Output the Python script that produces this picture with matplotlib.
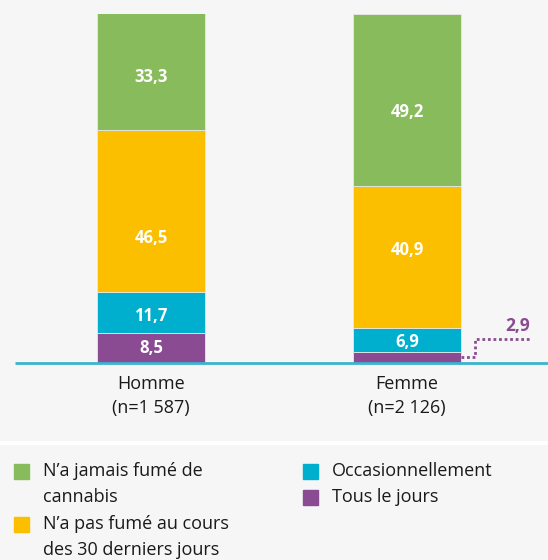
import numpy as np
import matplotlib.pyplot as plt
from matplotlib.patches import Rectangle
from matplotlib.lines import Line2D

plt.rcParams['font.family'] = ['Open Sans', 'DejaVu Sans']

# données
groupes = ['Homme\n(n=1 587)', 'Femme\n(n=2 126)']
categories = ['Tous le jours', 'Occasionnellement',
              'N\u2019a pas fumé au cours\ndes 30 derniers jours',
              'N\u2019a jamais fumé de\ncannabis']
homme = [8.5, 11.7, 46.5, 33.3]
femme = [2.9, 6.9, 40.9, 49.2]
couleurs = ['#8b4b93', '#00aecd', '#fcbf00', '#87bb5b']
# position verticale des étiquettes dans chaque segment (fraction)
pos_h = [0.5, 0.42, 0.33, 0.45]
pos_f = [0.5, 0.42, 0.55, 0.43]

fond = '#f6f6f6'
W, H = 548, 560
fig = plt.figure(figsize=(W / 100, H / 100), dpi=100, facecolor=fond)

# zone du graphique (en pixels : haut 13.5, bas 362.5)
y_top, y_bot = 13.5, 362.5
ax = fig.add_axes([0, 1 - y_bot / H, 1, (y_bot - y_top) / H])
ax.set_facecolor(fond)
ax.set_xlim(-151 / 256, (W - 151) / 256)
ax.set_ylim(0, 100)
for s in ax.spines.values():
    s.set_visible(False)
ax.set_xticks([])
ax.set_yticks([])

x = np.arange(len(groupes))
largeur = 108 / 256
data = np.array([homme, femme])
positions = [pos_h, pos_f]
bas = np.zeros(len(groupes))
for k, cat in enumerate(categories):
    vals = data[:, k]
    ax.bar(x, vals, largeur, bottom=bas, color=couleurs[k],
           edgecolor='#e8e8e8', linewidth=0.6, zorder=2)
    for i in range(len(groupes)):
        if vals[i] >= 5:
            ax.text(x[i], bas[i] + vals[i] * positions[i][k],
                    f'{vals[i]:.1f}'.replace('.', ','),
                    ha='center', va='center', color='white',
                    fontsize=12, fontweight='bold', zorder=3)
    bas += vals

# ligne de base
ax.plot([(15 - 151) / 256, (W - 151) / 256], [0, 0],
        color='#3bb4cf', lw=2, zorder=4, solid_capstyle='butt', clip_on=False)

# annotation pour la petite valeur (Femme, tous les jours)
v = femme[0]
x0 = x[1] + largeur / 2
xs = [x0, x0 + 14 / 256, x0 + 14 / 256, x0 + 69 / 256]
ys = [v / 2, v / 2, v + 3.7, v + 3.7]
ax.plot(xs, ys, color='#8b4b93', lw=2, ls=(0, (1, 1)),
        zorder=3, clip_on=False)
ax.text(x0 + 57 / 256, v + 5.0, f'{v:.1f}'.replace('.', ','),
        ha='center', va='bottom', color='#8b4b93',
        fontsize=12.5, fontweight='bold')

# étiquettes des groupes
for i, g in enumerate(groupes):
    ax.text(x[i], -3.5, g, ha='center', va='top', fontsize=13,
            color='#1a1a1a', linespacing=1.45)

# séparateur blanc
fig.add_artist(Line2D([0, 1], [1 - 443 / H] * 2, color='white', lw=3,
                      transform=fig.transFigure))

# légende
ordre = [3, 2, 1, 0]
places = [(14, 471), (14, 524), (303, 471), (303, 497)]
for k, (px, py) in zip(ordre, places):
    fig.add_artist(Rectangle((px / W, 1 - (py + 7.5) / H), 15 / W, 15 / H,
                             color=couleurs[k], transform=fig.transFigure))
    fig.text((px + 29) / W, 1 - (py - 9) / H, categories[k], ha='left',
             va='top', fontsize=13, color='#1a1a1a', linespacing=1.55)

fig.savefig('out.png', dpi=100, facecolor=fond)
